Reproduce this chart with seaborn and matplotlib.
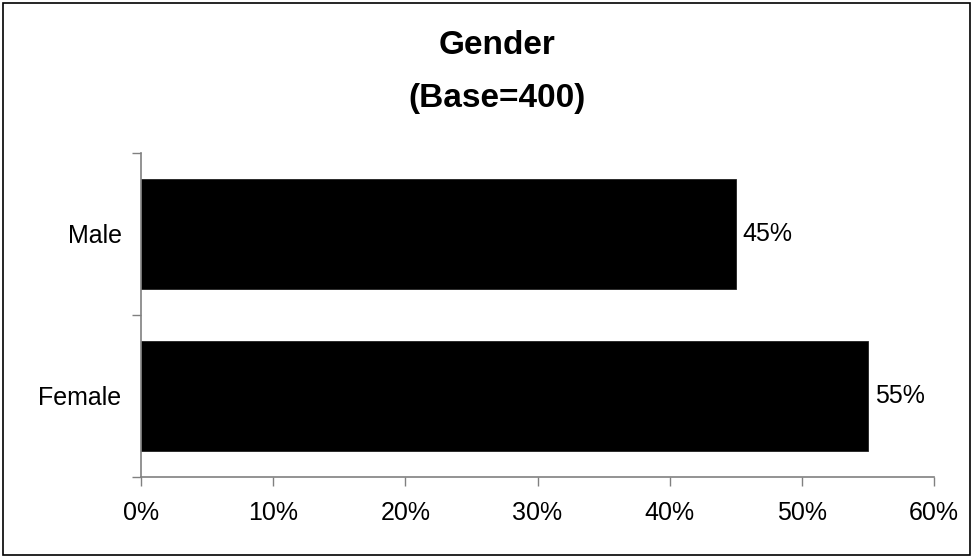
import matplotlib
matplotlib.use("Agg")
import matplotlib.pyplot as plt
from matplotlib.patches import Rectangle
from matplotlib.ticker import FixedLocator, PercentFormatter
import seaborn as sns
import pandas as pd

categories = ["Male", "Female"]
values = [45, 55]
xticks = [0, 10, 20, 30, 40, 50, 60]
title_lines = ["Gender", "(Base=400)"]

sns.set_style("white")
plt.rcParams["font.family"] = ["Liberation Sans", "DejaVu Sans"]
plt.rcParams["text.color"] = "black"
plt.rcParams["xtick.labelcolor"] = "black"
plt.rcParams["ytick.labelcolor"] = "black"

W, H = 973, 558
fig = plt.figure(figsize=(W / 100, H / 100), dpi=100)
ax = fig.add_axes([141 / W, 1 - 477 / H, (934 - 141) / W, (477 - 152.5) / H])

df = pd.DataFrame({"cat": categories, "val": values})
sns.barplot(data=df, x="val", y="cat", orient="h", color="black",
            width=0.677, ax=ax, edgecolor="#202020", linewidth=0.6, saturation=1)

ax.set_xlim(0, 60)
ax.set_ylim(1.5, -0.5)
ax.set_xticks(xticks)
ax.xaxis.set_major_formatter(PercentFormatter(decimals=0))
ax.set_xlabel("")
ax.set_ylabel("")

for c in ax.containers:
    ax.bar_label(c, labels=[f"{v}%" for v in values], padding=5, fontsize=18,
                 color="black")

ax.yaxis.set_minor_locator(FixedLocator([-0.5, 0.5, 1.5]))
ax.tick_params(axis="y", which="major", length=0, pad=14, labelsize=18,
               labelcolor="black")
ax.tick_params(axis="y", which="minor", left=True, length=6.5, width=1, color="#808080")
ax.tick_params(axis="x", which="major", bottom=True, length=6.5, width=1, color="#808080",
               pad=11, labelsize=18, direction="out", labelcolor="black")

for s in ["top", "right"]:
    ax.spines[s].set_visible(False)
for s in ["left", "bottom"]:
    ax.spines[s].set_color("#808080")
    ax.spines[s].set_linewidth(1.2)

fig.text(497 / W, 1 - 46 / H, title_lines[0], ha="center", va="center",
         fontsize=24, fontweight="bold", color="black")
fig.text(497 / W, 1 - 98 / H, title_lines[1], ha="center", va="center",
         fontsize=24, fontweight="bold", color="black")

fig.patches.append(Rectangle((3 / W, 3 / H), (970 - 3) / W, (555 - 3) / H,
                             transform=fig.transFigure, fill=False,
                             edgecolor="black", linewidth=1.2))

fig.savefig("out.png", dpi=100)
